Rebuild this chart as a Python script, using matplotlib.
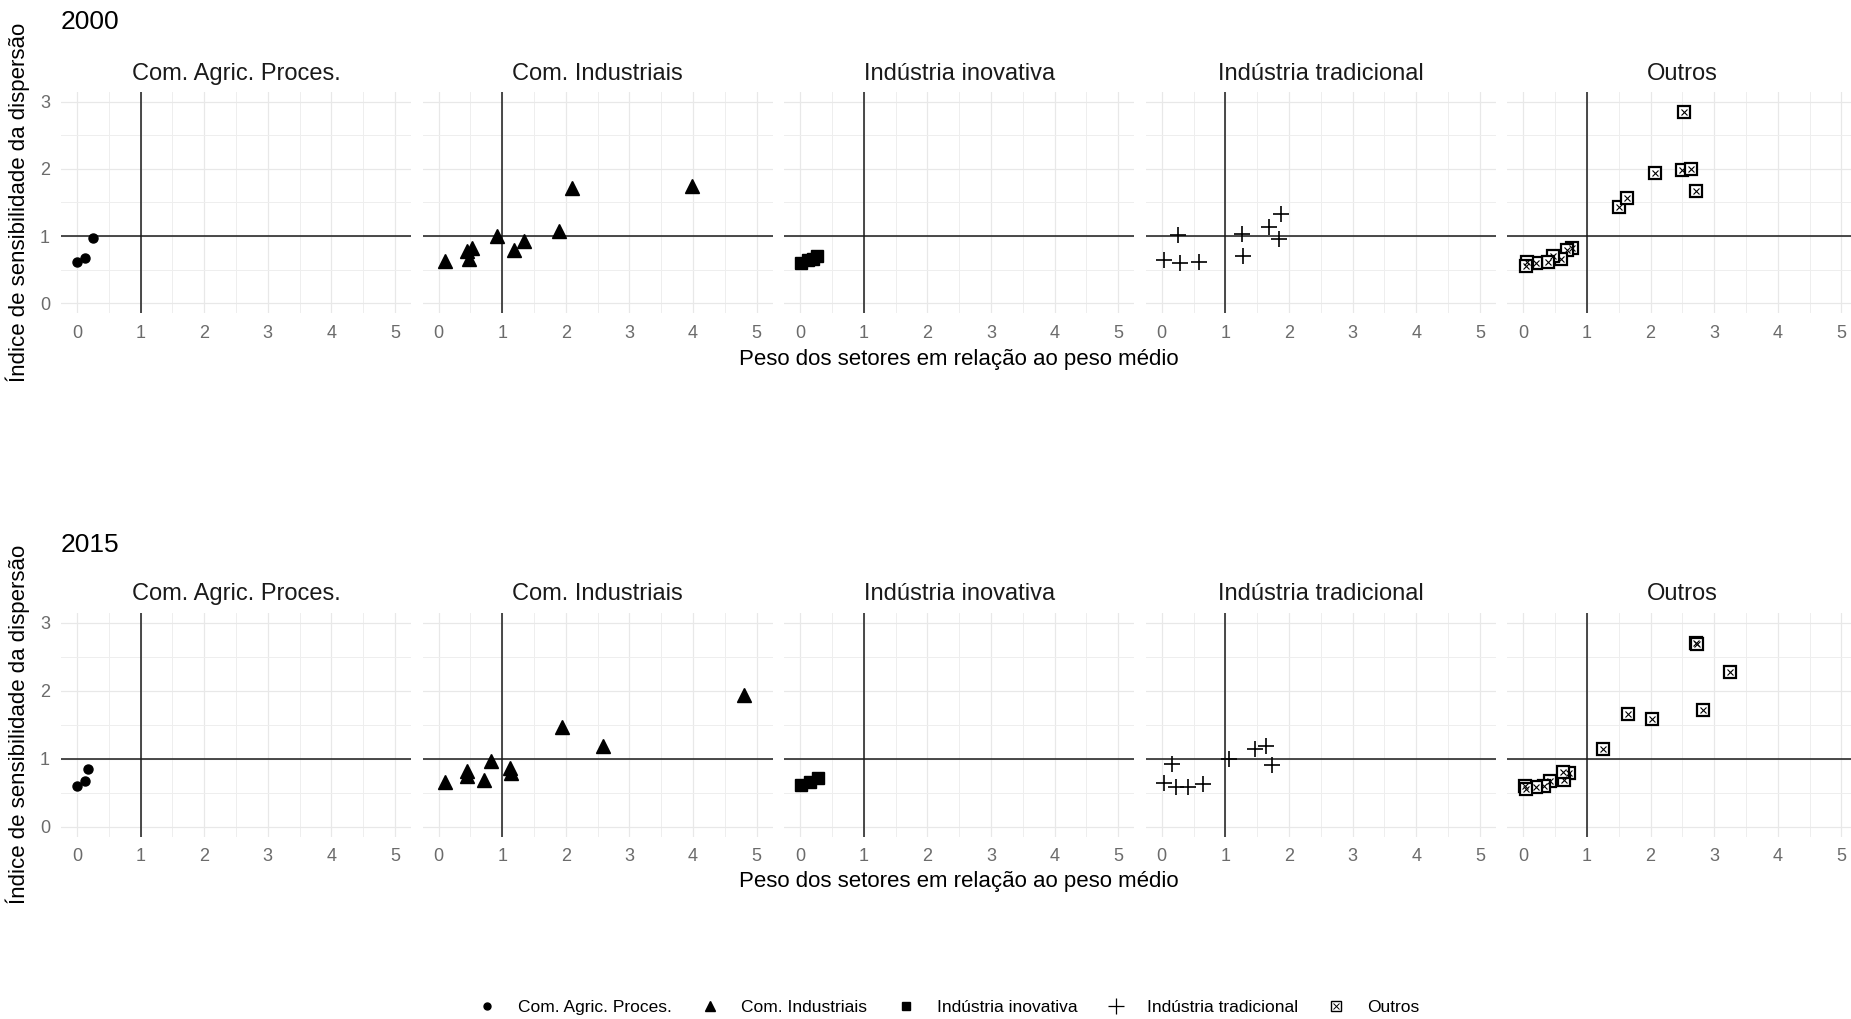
import numpy as np
import matplotlib.pyplot as plt
from matplotlib.lines import Line2D

plt.rcParams['font.family'] = ['Liberation Sans', 'DejaVu Sans']

categorias = ["Com. Agric. Proces.", "Com. Industriais", "Indústria inovativa",
              "Indústria tradicional", "Outros"]
anos = ["2000", "2015"]

# --- 2000 ---
agric_2000_x = [0.00, 0.12, 0.25]
agric_2000_y = [0.62, 0.68, 0.97]
indus_2000_x = [0.10, 0.44, 0.53, 0.48, 0.92, 1.18, 1.34, 1.90, 2.09, 3.99]
indus_2000_y = [0.63, 0.78, 0.82, 0.66, 1.00, 0.80, 0.93, 1.07, 1.72, 1.74]
inov_2000_x = [0.02, 0.13, 0.20, 0.27]
inov_2000_y = [0.60, 0.64, 0.66, 0.70]
trad_2000_x = [0.25, 0.03, 0.28, 0.59, 1.26, 1.28, 1.69, 1.87, 1.84]
trad_2000_y = [1.01, 0.65, 0.60, 0.62, 1.03, 0.70, 1.14, 1.33, 0.95]
outros_2000_x = [2.53, 2.07, 2.49, 2.64, 2.72, 1.51, 1.63, 0.76, 0.68, 0.60,
                 0.46, 0.39, 0.20, 0.06, 0.04]
outros_2000_y = [2.84, 1.94, 1.98, 2.00, 1.67, 1.44, 1.57, 0.83, 0.80, 0.66,
                 0.70, 0.61, 0.60, 0.61, 0.55]

# --- 2015 ---
agric_2015_x = [0.00, 0.13, 0.18]
agric_2015_y = [0.60, 0.67, 0.85]
indus_2015_x = [0.10, 0.44, 0.44, 0.71, 0.83, 1.13, 1.14, 1.94, 2.58, 4.80]
indus_2015_y = [0.65, 0.82, 0.75, 0.68, 0.97, 0.87, 0.79, 1.46, 1.19, 1.94]
inov_2015_x = [0.02, 0.16, 0.28]
inov_2015_y = [0.61, 0.66, 0.71]
trad_2015_x = [0.16, 0.03, 0.23, 0.42, 0.65, 1.06, 1.47, 1.64, 1.74]
trad_2015_y = [0.92, 0.64, 0.58, 0.59, 0.63, 1.00, 1.14, 1.18, 0.90]
outros_2015_x = [2.71, 2.73, 3.25, 2.82, 1.65, 2.02, 1.26, 0.72, 0.64, 0.63,
                 0.42, 0.33, 0.20, 0.03, 0.04]
outros_2015_y = [2.70, 2.69, 2.28, 1.71, 1.66, 1.58, 1.15, 0.79, 0.68, 0.80,
                 0.67, 0.60, 0.59, 0.60, 0.55]

dados = {
    "2000": [(agric_2000_x, agric_2000_y), (indus_2000_x, indus_2000_y),
             (inov_2000_x, inov_2000_y), (trad_2000_x, trad_2000_y),
             (outros_2000_x, outros_2000_y)],
    "2015": [(agric_2015_x, agric_2015_y), (indus_2015_x, indus_2015_y),
             (inov_2015_x, inov_2015_y), (trad_2015_x, trad_2015_y),
             (outros_2015_x, outros_2015_y)],
}


def draw_points(ax, i, x, y):
    if i == 0:
        ax.plot(x, y, ls='none', marker='o', ms=6.5, color='black', zorder=5)
    elif i == 1:
        ax.plot(x, y, ls='none', marker='^', ms=9.5, color='black', zorder=5)
    elif i == 2:
        ax.plot(x, y, ls='none', marker='s', ms=8, color='black', zorder=5)
    elif i == 3:
        ax.plot(x, y, ls='none', marker='+', ms=12, mew=1.2, color='black', zorder=5)
    else:
        ax.plot(x, y, ls='none', marker='s', ms=8, mfc='white', mec='black',
                mew=1.6, zorder=5)
        ax.plot(x, y, ls='none', marker='x', ms=5, mec='black', mew=0.8, zorder=6)


W, H = 1851, 1019
fig = plt.figure(figsize=(W / 100, H / 100), dpi=100)

left0, step, width = 61, 361.6, 350
rows = {"2000": (91.6, 313.4), "2015": (612.5, 836.9)}
title_y = {"2000": 22, "2015": 545}
xlab_y = {"2000": 359, "2015": 882}

for ano in anos:
    top, bot = rows[ano]
    for i, cat in enumerate(categorias):
        l = left0 + i * step
        ax = fig.add_axes([l / W, 1 - bot / H, width / W, (bot - top) / H])
        ax.set_xlim(-0.25, 5.25)
        ax.set_ylim(-0.15, 3.15)
        ax.set_xticks(range(6))
        ax.set_xticks(np.arange(0.5, 5, 1.0), minor=True)
        ax.set_yticks(range(4))
        ax.set_yticks([0.5, 1.5, 2.5], minor=True)
        ax.grid(True, which='major', color='#e8e8e8', lw=0.9)
        ax.grid(True, which='minor', color='#eeeeee', lw=0.7)
        ax.set_axisbelow(True)
        for s in ax.spines.values():
            s.set_visible(False)
        ax.tick_params(which='both', length=0, labelsize=13, colors='#6b6b6b', pad=8)
        if i > 0:
            ax.set_yticklabels([])
        ax.axvline(1, color='#1a1a1a', lw=1.1, zorder=3)
        ax.axhline(1, color='#1a1a1a', lw=1.1, zorder=3)
        x, y = dados[ano][i]
        draw_points(ax, i, x, y)
        ax.annotate(cat, xy=(0.5, 1.0), xycoords='axes fraction',
                    xytext=(0, 13), textcoords='offset points',
                    ha='center', va='center', fontsize=17, color='#1a1a1a')

    fig.text(61 / W, 1 - title_y[ano] / H, ano, ha='left', va='center', fontsize=19)
    fig.text(959 / W, 1 - xlab_y[ano] / H, "Peso dos setores em relação ao peso médio",
             ha='center', va='center', fontsize=16)
    fig.text(18 / W, 1 - (top + bot) / 2 / H, "Índice de sensibilidade da dispersão",
             ha='center', va='center', rotation=90, fontsize=16)

# legenda
handles = [
    Line2D([], [], ls='none', marker='o', ms=5, color='black'),
    Line2D([], [], ls='none', marker='^', ms=7, color='black'),
    Line2D([], [], ls='none', marker='s', ms=6, color='black'),
    Line2D([], [], ls='none', marker='+', ms=12, mew=0.9, color='black'),
    (Line2D([], [], ls='none', marker='s', ms=7, mfc='white', mec='black', mew=1.0),
     Line2D([], [], ls='none', marker='x', ms=4.5, mec='black', mew=0.7)),
]
fig.legend(handles, categorias, loc='center', bbox_to_anchor=(948 / W, 1 - 1007 / H),
           ncol=5, frameon=False, fontsize=12.5, handlelength=1.2,
           handletextpad=1.2, columnspacing=1.6)

fig.savefig("out.png", dpi=100)
